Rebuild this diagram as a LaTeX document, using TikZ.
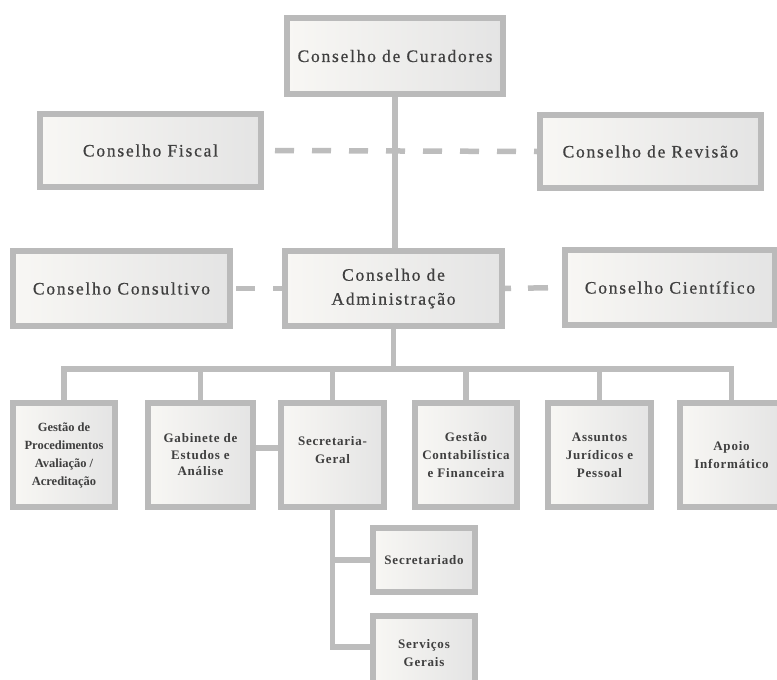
\documentclass[tikz,border=0pt]{standalone}
\usepackage{fontspec}
\usetikzlibrary{backgrounds}
\newfontfamily\bigfont[LetterSpace=10,FakeBold=0.6]{Liberation Serif}
\newfontfamily\smallfont[LetterSpace=6]{Liberation Serif}
\newfontfamily\tightfont{Liberation Serif}
\definecolor{boxgray}{HTML}{BABABA}
\definecolor{linegray}{HTML}{BDBDBD}
\definecolor{fillL}{HTML}{F8F7F4}
\definecolor{fillR}{HTML}{E4E4E4}
\definecolor{txt}{HTML}{3F3F3F}
\tikzset{
  box/.style={draw=boxgray, line width=6pt, left color=fillL, right color=fillR,
    inner sep=0pt, align=center, text=txt,
    font=\bigfont\fontsize{17.5}{24}\selectfont},
  sbox/.style={box, font=\smallfont\bfseries\fontsize{13}{18}\selectfont},
  conn/.style={draw=linegray, line width=5.5pt},
  dconn/.style={conn, dash pattern=on 19pt off 18pt}
}
\begin{document}
\begin{tikzpicture}[x=1pt,y=-1pt]
\useasboundingbox (0,0) rectangle (777,680);
\clip (0,0) rectangle (777,680);
% top
\node[box, minimum width=216pt, minimum height=76pt] (cur) at (395,56) {Conselho de Curadores};
\node[box, minimum width=221pt, minimum height=73pt] (fis) at (150.5,150.5) {Conselho Fiscal};
\node[box, minimum width=221pt, minimum height=73pt] (rev) at (650.5,151.5) {Conselho de Revisão};
% middle
\node[box, minimum width=217pt, minimum height=75pt] (con) at (121.5,288.5) {Conselho Consultivo};
\node[box, minimum width=217pt, minimum height=75pt] (adm) at (393.5,288.5) {Conselho de\\Administração};
\node[box, minimum width=210pt, minimum height=75pt] (cie) at (670,287.5) {Conselho Científico};
% bottom
\node[sbox, font=\tightfont\bfseries\fontsize{12.5}{18}\selectfont, minimum width=102pt, minimum height=104pt] (g1) at (64,455) {Gestão de\\Procedimentos\\Avaliação /\\Acreditação};
\node[sbox, font=\smallfont\bfseries\fontsize{13}{16.5}\selectfont, minimum width=105pt, minimum height=104pt] (g2) at (200.5,455) {Gabinete de\\Estudos e\\Análise};
\node[sbox, minimum width=103pt, minimum height=104pt] (g3) at (332.5,455) {Secretaria-\\Geral\\[-8pt]\mbox{}};
\node[sbox, minimum width=102pt, minimum height=104pt] (g4) at (466,455) {Gestão\\Contabilística\\e Financeira};
\node[sbox, minimum width=103pt, minimum height=104pt] (g5) at (599.5,455) {Assuntos\\Jurídicos e\\Pessoal};
\node[sbox, minimum width=103pt, minimum height=104pt] (g6) at (731.5,455) {Apoio\\Informático};
\node[sbox, minimum width=102pt, minimum height=64pt] (s1) at (424,560) {Secretariado};
\node[sbox, minimum width=102pt, minimum height=74pt] (s2) at (424,653) {Serviços\\Gerais};
\coordinate (bus) at (395,369);
\begin{scope}[on background layer]
  \fill[white] (0,0) rectangle (777,680);
  \draw[conn] (cur.south) -- (cur.south |- adm.north);
  \draw[dconn, dash phase=26pt] (fis.east) -- (rev.west);
  \draw[dconn, dash phase=34pt] (con.east) -- (adm.west);
  \draw[conn, dash pattern=on 20pt off 17pt, dash phase=14pt] (adm.east) -- (cie.west);
  \draw[conn] (adm.south) -- (adm.south |- bus);
  \draw[conn] (g1.north) -- (g1.north |- bus) -- (g6.north |- bus) -- (g6.north);
  \draw[conn] (g2.north) -- (g2.north |- bus);
  \draw[conn] (g3.north) -- (g3.north |- bus);
  \draw[conn] (g4.north) -- (g4.north |- bus);
  \draw[conn] (g5.north) -- (g5.north |- bus);
  \draw[conn] ([yshift=7pt]g2.east) -- ([yshift=7pt]g3.west);
  \draw[conn] (g3.south) |- ([yshift=6pt]s2.west);
  \draw[conn] (g3.south |- s1.west) -- (s1.west);
\end{scope}
\end{tikzpicture}
\end{document}
